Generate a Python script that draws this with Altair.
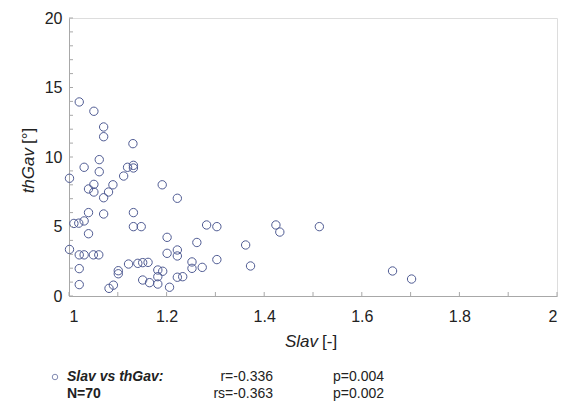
import altair as alt
import pandas as pd

# Data
slav = [1.021, 1.051, 1.071, 1.071, 1.131, 1.062, 1.031, 1.062, 1.120, 1.132,
        1.132, 1.112, 1.001, 1.040, 1.051, 1.051, 1.090, 1.081, 1.071, 1.191,
        1.222, 1.040, 1.071, 1.010, 1.020, 1.031, 1.040, 1.132, 1.132, 1.148,
        1.001, 1.021, 1.031, 1.050, 1.061, 1.021, 1.021, 1.101, 1.101, 1.082,
        1.091, 1.122, 1.141, 1.151, 1.162, 1.151, 1.165, 1.182, 1.192, 1.182,
        1.182, 1.201, 1.201, 1.222, 1.222, 1.206, 1.222, 1.233, 1.252, 1.252,
        1.262, 1.273, 1.282, 1.303, 1.303, 1.362, 1.372, 1.424, 1.432, 1.513,
        1.663, 1.702]
thgav = [13.96, 13.29, 12.16, 11.46, 10.96, 9.81, 9.26, 8.94, 9.26, 9.40,
         9.21, 8.63, 8.47, 7.70, 8.03, 7.48, 8.00, 7.48, 7.07, 8.00,
         7.03, 6.00, 5.90, 5.22, 5.24, 5.40, 4.48, 6.00, 4.99, 4.99,
         3.35, 2.96, 2.96, 2.96, 2.96, 1.97, 0.82, 1.82, 1.60, 0.55,
         0.78, 2.30, 2.35, 2.40, 2.42, 1.15, 0.96, 1.87, 1.78, 1.39,
         0.86, 4.22, 3.07, 3.31, 2.88, 0.63, 1.35, 1.39, 2.45, 1.99,
         3.85, 2.06, 5.11, 4.99, 2.62, 3.67, 2.16, 5.11, 4.60, 4.99,
         1.80, 1.22]

x_label_values = [1.0, 1.2, 1.4, 1.6, 1.8, 2.0]
y_label_values = [0, 5, 10, 15, 20]
x_minor = [round(1.0 + 0.1 * i, 1) for i in range(11)]
y_minor = list(range(0, 21))

stats_line1 = ["r=-0.336", "p=0.004"]
stats_line2 = ["rs=-0.363", "p=0.002"]

W, H = 488, 278
FONT = "Liberation Sans"
PT = "#4f5b93"
AX = "#a8a8a8"

xs = alt.Scale(domain=[1, 2], nice=False, zero=False)
ys = alt.Scale(domain=[0, 20], nice=False)
xaxis = alt.Axis(values=x_label_values, format="~g", title=None, grid=False,
                 tickSize=0, labelPadding=12, domainColor=AX,
                 labelFontSize=16, labelColor="#222", labelFont=FONT)
yaxis = alt.Axis(values=y_label_values, title=None, grid=False,
                 tickSize=0, labelPadding=7, domainColor=AX,
                 labelFontSize=16, labelColor="#222", labelFont=FONT)

df = pd.DataFrame({"Slav": slav, "thGav": thgav})

points = alt.Chart(df).mark_point(shape="circle", filled=False, size=70,
                                  color=PT, strokeWidth=1, opacity=1).encode(
    x=alt.X("Slav:Q", scale=xs, axis=xaxis),
    y=alt.Y("thGav:Q", scale=ys, axis=yaxis),
)

yt = alt.Chart(pd.DataFrame({"thGav": y_minor})).mark_rule(color=AX, strokeWidth=1).encode(
    y=alt.Y("thGav:Q", scale=ys, axis=yaxis),
    x=alt.value(0), x2=alt.value(4),
)
xt = alt.Chart(pd.DataFrame({"Slav": x_minor})).mark_rule(color=AX, strokeWidth=1).encode(
    x=alt.X("Slav:Q", scale=xs, axis=xaxis),
    y=alt.value(H), y2=alt.value(H - 4),
)


def txt(s, x, y, align="left", style="normal", weight="normal", size=17, angle=0):
    return alt.Chart(pd.DataFrame({"t": [s]})).mark_text(
        align=align, baseline="middle", font=FONT, fontSize=size,
        fontStyle=style, fontWeight=weight, angle=angle, color="#222"
    ).encode(text="t:N", x=alt.value(x), y=alt.value(y))


titles = [
    txt("Slav", 249, 324, align="right", style="italic"),
    txt("[-]", 253, 324, align="left"),
    txt("thGav", -40, 130, align="right", style="italic", angle=270),
    txt("[°]", -40, 126, align="left", angle=270),
]

legend_pt = alt.Chart(pd.DataFrame({"t": ["o"]})).mark_point(
    shape="circle", filled=False, size=30, color=PT, strokeWidth=1).encode(
    x=alt.value(-14), y=alt.value(359))

legend = [
    txt("Slav vs thGav:", -2, 359, style="italic", weight="bold", size=14),
    txt("N=70", -2, 376, weight="bold", size=14),
    txt(stats_line1[0], 204, 359, align="right", size=14),
    txt(stats_line2[0], 204, 376, align="right", size=14),
    txt(stats_line1[1], 264, 359, size=14),
    txt(stats_line2[1], 264, 376, size=14),
]

chart = alt.layer(points, yt, xt, *titles, legend_pt, *legend).properties(
    width=W, height=H,
    autosize=alt.AutoSizeParams(type="none"),
    padding={"left": 61, "top": 10, "right": 11, "bottom": 108},
).configure_view(stroke=None).configure(background="white")

chart.save("out.html", embed_options={"renderer": "svg", "actions": False})
